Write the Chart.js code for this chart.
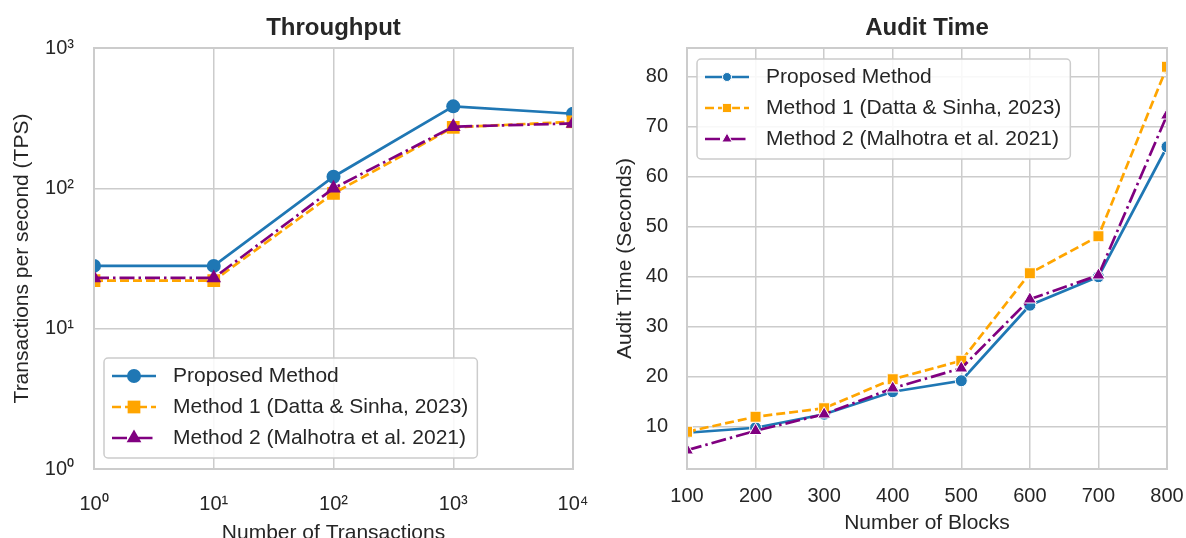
<!DOCTYPE html>
<html lang="en">
<head>
<meta charset="UTF-8" />
<title>Throughput and Audit Time</title>
<script src="https://cdn.jsdelivr.net/npm/chart.js"></script>
<style>
  html, body { margin: 0; padding: 0; background: #fff; }
  body { width: 1186px; height: 538px; position: relative; overflow: hidden; }
  .panel { position: absolute; top: 0; width: 593px; height: 538px; }
  #left { left: 0; }
  #right { left: 593px; }
</style>
</head>
<body>
<div class="panel" id="left"><canvas id="throughput" width="593" height="538"></canvas></div>
<div class="panel" id="right"><canvas id="audit" width="593" height="538"></canvas></div>
<script>
const seriesNames = ['Proposed Method', 'Method 1 (Datta & Sinha, 2023)', 'Method 2 (Malhotra et al. 2021)'];

// Throughput panel (log-log)
const txCounts = [1, 10, 100, 1000, 10000];
const tpsProposed = [28, 28, 121, 384, 340];
const tpsMethod1 = [22, 22, 92, 272, 298];
const tpsMethod2 = [23, 23, 100, 275, 290];
const txTickLabels = ['10⁰', '10¹', '10²', '10³', '10⁴'];
const tpsTicks = [1, 10, 100, 1000];
const tpsTickLabels = ['10⁰', '10¹', '10²', '10³'];

// Audit time panel
const blocks = [100, 200, 300, 400, 500, 600, 700, 800];
const auditProposed = [8.8, 9.8, 12.5, 17.0, 19.2, 34.3, 40.0, 66.0];
const auditMethod1 = [9.0, 12.0, 13.7, 19.5, 23.2, 40.7, 48.1, 82.0];
const auditMethod2 = [5.3, 9.2, 12.5, 17.7, 21.7, 35.5, 40.3, 72.3];
const auditTicks = [10, 20, 30, 40, 50, 60, 70, 80];

const INK = '#262626';
const GRID = '#cccccc';
const FONT = "'Liberation Sans', Arial, sans-serif";
const looks = [
  { color: '#1f77b4', dash: [], marker: 'circle' },
  { color: '#ffa500', dash: [9, 4], marker: 'rect' },
  { color: '#800080', dash: [15, 4, 2.5, 4], marker: 'triangle' }
];

function drawMarker(ctx, style, x, y, r, fill, edge, edgeW) {
  ctx.beginPath();
  if (style === 'circle') {
    ctx.arc(x, y, r, 0, Math.PI * 2);
  } else if (style === 'rect') {
    const s = r * Math.SQRT1_2;
    ctx.rect(x - s, y - s, 2 * s, 2 * s);
  } else {
    const k = r * Math.sin(2 * Math.PI / 3);
    ctx.moveTo(x, y - r);
    ctx.lineTo(x + k, y + r / 2);
    ctx.lineTo(x - k, y + r / 2);
    ctx.closePath();
  }
  ctx.fillStyle = fill;
  ctx.fill();
  if (edgeW) {
    ctx.setLineDash([]);
    ctx.strokeStyle = edge;
    ctx.lineWidth = edgeW;
    ctx.stroke();
  }
}

// light grey box around the plot area, drawn over the lines like matplotlib spines
const framePlugin = {
  id: 'frame',
  afterDatasetsDraw(chart) {
    const { ctx, chartArea: a } = chart;
    ctx.save();
    ctx.strokeStyle = GRID;
    ctx.lineWidth = 2;
    ctx.strokeRect(a.left, a.top, a.right - a.left, a.bottom - a.top);
    ctx.restore();
  }
};

// legend drawn inside the plot area
const boxLegend = {
  id: 'boxLegend',
  afterDraw(chart, args, o) {
    const { ctx, chartArea: a } = chart;
    const sets = chart.data.datasets;
    ctx.save();
    ctx.font = '21px ' + FONT;
    const textW = Math.max(...sets.map(d => ctx.measureText(d.label).width));
    const w = 8 + 44 + 17 + textW + 9, h = 100;
    const x = a.left + 10;
    const y = o.corner === 'top' ? a.top + 11 : a.bottom - 11 - h;
    const r = 4;
    ctx.beginPath();
    ctx.moveTo(x + r, y);
    ctx.arcTo(x + w, y, x + w, y + h, r);
    ctx.arcTo(x + w, y + h, x, y + h, r);
    ctx.arcTo(x, y + h, x, y, r);
    ctx.arcTo(x, y, x + w, y, r);
    ctx.closePath();
    ctx.fillStyle = 'rgba(255,255,255,0.85)';
    ctx.fill();
    ctx.strokeStyle = GRID;
    ctx.lineWidth = 1.5;
    ctx.stroke();
    sets.forEach((d, i) => {
      const cy = y + 18 + i * 31;
      ctx.setLineDash(d.borderDash);
      ctx.strokeStyle = d.borderColor;
      ctx.lineWidth = d.borderWidth;
      ctx.beginPath();
      ctx.moveTo(x + 8, cy);
      ctx.lineTo(x + 52, cy);
      ctx.stroke();
      drawMarker(ctx, d.pointStyle, x + 30, cy, o.sizes[d.pointStyle], d.borderColor,
        '#ffffff', o.edge ? 1 : 0);
      ctx.fillStyle = INK;
      ctx.textBaseline = 'middle';
      ctx.textAlign = 'left';
      ctx.fillText(d.label, x + 69, cy);
    });
    ctx.restore();
  }
};

function lineSet(i, xs, values, sizes, edge) {
  const look = looks[i];
  return {
    label: seriesNames[i],
    data: xs.map((x, j) => ({ x: x, y: values[j] })),
    borderColor: look.color,
    backgroundColor: look.color,
    borderWidth: 2.7,
    borderDash: look.dash,
    pointStyle: look.marker,
    pointRadius: sizes[look.marker],
    pointHoverRadius: sizes[look.marker],
    pointBackgroundColor: look.color,
    pointBorderColor: edge ? '#ffffff' : look.color,
    pointBorderWidth: edge ? 1 : 0,
    tension: 0,
    clip: 0,
    order: 3 - i
  };
}

// keep tick labels from pushing the plot area inwards
function fixX(s) { s.height = 69; s.paddingLeft = 0; s.paddingRight = 0; }
function fixY(s) { s.width = 94; s.paddingTop = 0; s.paddingBottom = 0; }

function tickFont() { return { size: 20, family: FONT }; }
function labelFont() { return { size: 21, family: FONT }; }
function titleFont() { return { size: 24, family: FONT, weight: 'bold' }; }

const bigMarkers = { circle: 7, rect: 9, triangle: 8.5 };
const smallMarkers = { circle: 6, rect: 7.8, triangle: 7.5 };

new Chart(document.getElementById('throughput'), {
  type: 'line',
  data: {
    datasets: [
      lineSet(0, txCounts, tpsProposed, bigMarkers, false),
      lineSet(1, txCounts, tpsMethod1, bigMarkers, false),
      lineSet(2, txCounts, tpsMethod2, bigMarkers, false)
    ]
  },
  options: {
    responsive: false,
    animation: false,
    devicePixelRatio: 1,
    layout: { padding: { left: 0, right: 20, top: 0, bottom: 0 } },
    plugins: {
      legend: { display: false },
      tooltip: { enabled: false },
      title: {
        display: true, text: 'Throughput', fullSize: false, color: INK,
        font: titleFont(), padding: { top: 13.6, bottom: 5.6 }
      },
      boxLegend: { corner: 'bottom', sizes: bigMarkers, edge: false }
    },
    scales: {
      x: {
        type: 'logarithmic', min: 1, max: 10000,
        afterBuildTicks: s => { s.ticks = txCounts.map(v => ({ value: v })); },
        afterFit: fixX,
        ticks: { callback: (v, i) => txTickLabels[i], font: tickFont(), color: INK, padding: 23, maxRotation: 0, autoSkip: false },
        grid: { color: GRID, lineWidth: 1.5, drawTicks: false },
        border: { display: false },
        title: { display: true, text: 'Number of Transactions', font: labelFont(), color: INK, padding: { top: 0, bottom: -7.6 } }
      },
      y: {
        type: 'logarithmic', min: 1, max: 1000,
        afterBuildTicks: s => { s.ticks = tpsTicks.map(v => ({ value: v })); },
        afterFit: fixY,
        ticks: { callback: (v, i) => tpsTickLabels[i], font: tickFont(), color: INK, padding: 20, autoSkip: false },
        grid: { color: GRID, lineWidth: 1.5, drawTicks: false },
        border: { display: false },
        title: { display: true, text: 'Transactions per second (TPS)', font: labelFont(), color: INK, padding: { top: 9.4, bottom: 0 } }
      }
    }
  },
  plugins: [framePlugin, boxLegend]
});

new Chart(document.getElementById('audit'), {
  type: 'line',
  data: {
    datasets: [
      lineSet(0, blocks, auditProposed, smallMarkers, true),
      lineSet(1, blocks, auditMethod1, smallMarkers, true),
      lineSet(2, blocks, auditMethod2, smallMarkers, true)
    ]
  },
  options: {
    responsive: false,
    animation: false,
    devicePixelRatio: 1,
    layout: { padding: { left: 0, right: 19, top: 0, bottom: 0 } },
    plugins: {
      legend: { display: false },
      tooltip: { enabled: false },
      title: {
        display: true, text: 'Audit Time', fullSize: false, color: INK,
        font: titleFont(), padding: { top: 13.6, bottom: 5.6 }
      },
      boxLegend: { corner: 'top', sizes: { circle: 4.5, rect: 6.5, triangle: 6 }, edge: true }
    },
    scales: {
      x: {
        type: 'linear', min: 100, max: 800,
        afterBuildTicks: s => { s.ticks = blocks.map(v => ({ value: v })); },
        afterFit: fixX,
        ticks: { callback: v => String(v), font: tickFont(), color: INK, padding: 15, maxRotation: 0, autoSkip: false },
        grid: { color: GRID, lineWidth: 1.5, drawTicks: false },
        border: { display: false },
        title: { display: true, text: 'Number of Blocks', font: labelFont(), color: INK, padding: { top: 0, bottom: 2.4 } }
      },
      y: {
        type: 'linear', min: 1.55, max: 85.75,
        afterBuildTicks: s => { s.ticks = auditTicks.map(v => ({ value: v })); },
        afterFit: fixY,
        ticks: { callback: v => String(v), font: tickFont(), color: INK, padding: 19, autoSkip: false },
        grid: { color: GRID, lineWidth: 1.5, drawTicks: false },
        border: { display: false },
        title: { display: true, text: 'Audit Time (Seconds)', font: labelFont(), color: INK, padding: { top: 19.4, bottom: 0 } }
      }
    }
  },
  plugins: [framePlugin, boxLegend]
});
</script>
</body>
</html>
